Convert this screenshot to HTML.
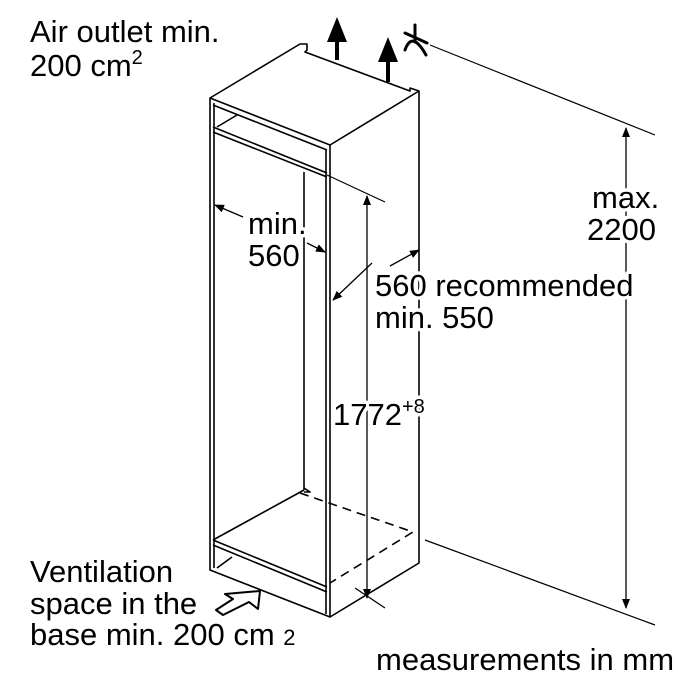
<!DOCTYPE html>
<html><head><style>
body{margin:0;background:#fff}
svg{display:block}
text{font-family:"Liberation Sans",Arial,sans-serif;font-size:31px;fill:#000}
.w{stroke:#fff;stroke-width:7;paint-order:stroke;stroke-linejoin:round}
</style></head><body>
<svg width="691" height="683" viewBox="0 0 691 683" xmlns="http://www.w3.org/2000/svg">
<defs>
<marker id="a" viewBox="0 0 10 10" refX="9" refY="5" markerWidth="10" markerHeight="10" orient="auto-start-reverse" markerUnits="userSpaceOnUse"><path d="M0,1 L10,5 L0,9 z" fill="#000"/></marker>
</defs>
<g fill="none" stroke="#000" stroke-width="1.6" stroke-linejoin="round">
<path d="M210,98 L300,44 L307,44 L307,50 L305,52 L410,91 L410,88 L419,91 L330,145 Z"/>
<path d="M210,98 L210,570 L330,617 L330,145"/>
<path d="M214,103 L214,568"/>
<path d="M326,150 L326,614"/>
<path d="M419,91 L419,563 L330,617"/>
<path d="M213,105 L327,150"/>
<path d="M213,127 L327,173"/>
<path d="M213,132 L327,177"/>
<path d="M217,127 L237,115"/>
<path d="M304,172 L304,490"/>
<path d="M304,488 L310,492 L304,492"/>
<path d="M213,540 L304,490"/>
<path d="M213,540 L327,587"/>
<path d="M213,545 L327,592"/>
<path d="M217,568 L232,557"/>
<path stroke-dasharray="9,6" d="M300,493 L413,532 L330,583"/>
<path stroke-width="1.2" d="M430,45 L655,135 M425,540 L655,625 M327,175 L385,202 M355,588 L385,608"/>
<path stroke-width="1.3" d="M626,128 L626,608" marker-start="url(#a)" marker-end="url(#a)"/>
<path stroke-width="1.3" d="M367,196 L367,598" marker-start="url(#a)" marker-end="url(#a)"/>
<path stroke-width="1.3" d="M243,217 L215,205" marker-end="url(#a)"/>
<path stroke-width="1.3" d="M307,243 L325,252" marker-end="url(#a)"/>
<path stroke-width="1.3" d="M372,263 L333,300" marker-end="url(#a)"/>
<path stroke-width="1.3" d="M390,266 L419,250" marker-end="url(#a)"/>
<path stroke-width="4" d="M337,60 L337,38 M388,82 L388,58"/>
<path stroke-width="3" stroke-linecap="round" d="M415,25 L415,42 M405,33 L427,43 M405,50 Q412,30 426,55"/>
<path stroke-width="2" d="M225,594 L260,591 L258,609 L249,602 L223,615 L216,610 L233,599 Z"/>
</g>
<path d="M337,17 L347,42 L327,42 Z M388,37 L398,62 L378,62 Z" fill="#000"/>
<text class="w" x="30" y="42">Air outlet min.</text>
<text x="30" y="76">200 cm<tspan font-size="20" dy="-12">2</tspan></text>
<text class="w" x="592" y="208">max.</text>
<text class="w" x="587" y="240">2200</text>
<text class="w" x="248" y="234">min.</text>
<text class="w" x="248" y="266">560</text>
<text class="w" x="375" y="296">560 recommended</text>
<text class="w" x="375" y="328">min. 550</text>
<text class="w" x="333" y="425">1772<tspan font-size="20" dy="-12">+8</tspan></text>
<text x="30" y="582">Ventilation</text>
<text x="30" y="614">space in the</text>
<text x="30" y="645">base min. 200 cm <tspan font-size="22">2</tspan></text>
<text x="376" y="670">measurements in mm</text>
</svg>
</body></html>
